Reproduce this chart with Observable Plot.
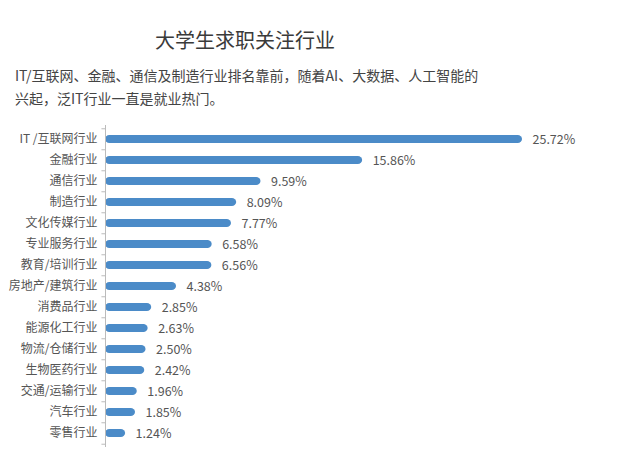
<!DOCTYPE html>
<html>
<head>
<meta charset="utf-8">
<script src="https://cdn.jsdelivr.net/npm/d3@7"></script>
<script src="https://cdn.jsdelivr.net/npm/@observablehq/plot@0.6"></script>
<style>
  html, body { margin: 0; padding: 0; background: #fff; }
  #wrap { position: relative; width: 622px; height: 471px; overflow: hidden; font-family: "Noto Sans CJK SC", "Noto Sans", sans-serif; }
  #title { position: absolute; left: 0; width: 490px; top: 27px; text-align: center; font-size: 20px; line-height: 26px; color: #3a3a3a; }
  #subtitle { position: absolute; left: 15px; top: 64px; width: 480px; font-size: 14px; line-height: 23px; color: #444; }
  #chart { position: absolute; left: 0; top: 115px; }
</style>
</head>
<body>
<div id="wrap">
  <div id="title">大学生求职关注行业</div>
  <div id="subtitle">IT/互联网、金融、通信及制造行业排名靠前，随着AI、大数据、人工智能的<br>兴起，泛IT行业一直是就业热门。</div>
  <div id="chart"></div>
</div>
<script>
const categories = ["IT /互联网行业", "金融行业", "通信行业", "制造行业", "文化传媒行业", "专业服务行业", "教育/培训行业", "房地产/建筑行业", "消费品行业", "能源化工行业", "物流/仓储行业", "生物医药行业", "交通/运输行业", "汽车行业", "零售行业"];
const values = [25.72, 15.86, 9.59, 8.09, 7.77, 6.58, 6.56, 4.38, 2.85, 2.63, 2.50, 2.42, 1.96, 1.85, 1.24];

const data = categories.map((c, i) => ({category: c, value: values[i]}));

const H = 352, MT = 10, MB = 20, PI = 0.6, PO = 0.3;
const step = (H - MT - MB) / (categories.length - PI + 2 * PO);

const chart = Plot.plot({
  width: 622,
  height: H,
  marginTop: MT,
  marginBottom: MB,
  marginLeft: 105,
  marginRight: 100,
  style: {fontFamily: '"Noto Sans CJK SC", "Noto Sans", sans-serif', fontSize: "12px", color: "#555", background: "transparent"},
  x: {domain: [0, d3.max(values)], axis: null},
  y: {domain: categories, paddingInner: PI, paddingOuter: PO, label: null, axis: null},
  marks: [
    Plot.barX(data, {x: "value", y: "category", fill: "#4b8bc8", rx: 4.3}),
    Plot.ruleX([0], {stroke: "#bbb", strokeWidth: 1}),
    Plot.ruleY(categories, {y: d => d, x1: -0.22, x2: 0, dy: -step / 2, stroke: "#bbb"}),
    Plot.ruleY([categories[categories.length - 1]], {y: d => d, x1: -0.22, x2: 0, dy: step / 2, stroke: "#bbb"}),
    Plot.text(data, {x: "value", y: "category", text: d => d.value.toFixed(2) + "%", dx: 10, textAnchor: "start", fill: "#555", fontSize: 12.5}),
    Plot.axisY({tickSize: 0, tickPadding: 8, label: null, fontSize: 12, fill: "#555"})
  ]
});
document.getElementById("chart").appendChild(chart);
</script>
</body>
</html>
